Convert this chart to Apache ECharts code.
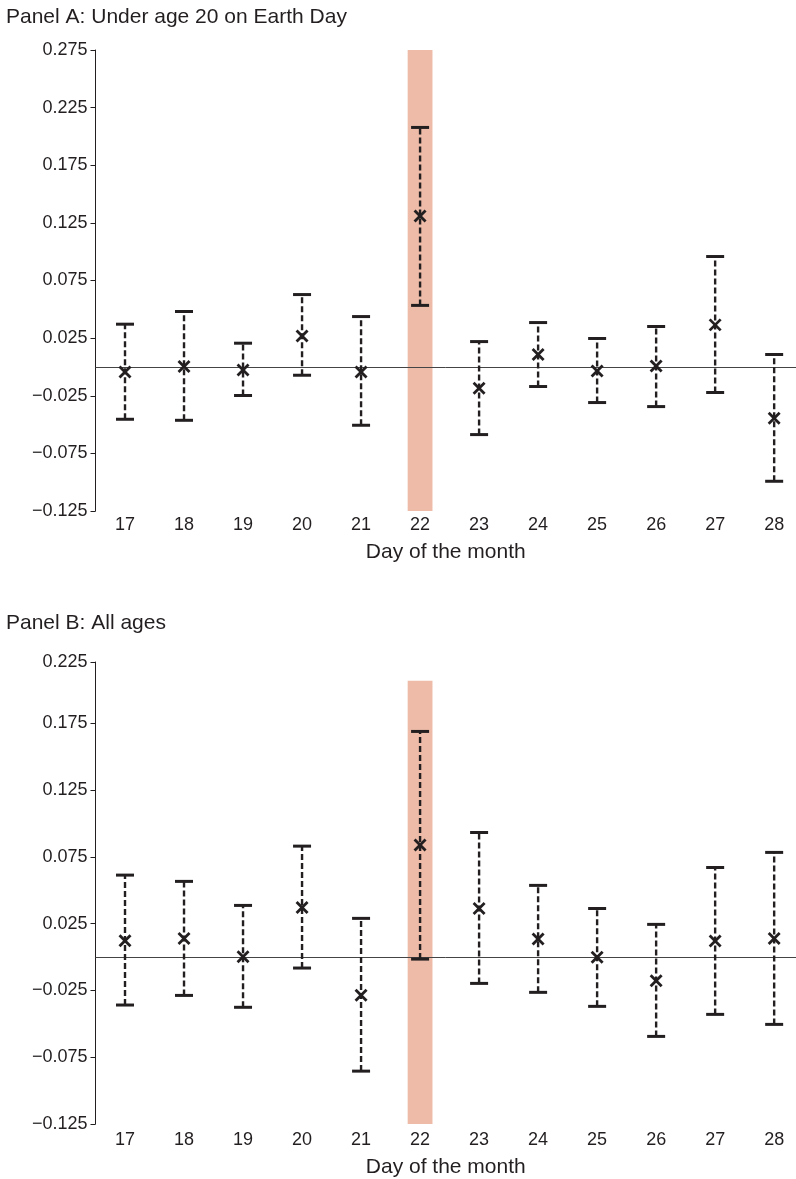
<!DOCTYPE html>
<html>
<head>
<meta charset="utf-8">
<script src="https://cdn.jsdelivr.net/npm/echarts@6/dist/echarts.min.js"></script>
<style>
html,body{margin:0;padding:0;background:#fff;}
#c{width:796px;height:1179px;}
</style>
</head>
<body>
<div id="c"></div>
<script>
// ---------- data ----------
var days = [17, 18, 19, 20, 21, 22, 23, 24, 25, 26, 27, 28];

// Panel A: Under age 20 on Earth Day
var pointA = [-0.0043, 0.0003, -0.0026, 0.0269, -0.0043, 0.1310, -0.0185, 0.0108, -0.0035, 0.0009, 0.0365, -0.0445];
var lowA   = [-0.0454, -0.0463, -0.0248, -0.0072, -0.0506, 0.0534, -0.0587, -0.0170, -0.0309, -0.0344, -0.0222, -0.0992];
var highA  = [0.0371, 0.0481, 0.0206, 0.0628, 0.0437, 0.2078, 0.0220, 0.0385, 0.0247, 0.0351, 0.0958, 0.0108];

// Panel B: All ages
var pointB = [0.0122, 0.0140, 0.0002, 0.0372, -0.0285, 0.0840, 0.0364, 0.0135, -0.0002, -0.0178, 0.0120, 0.0140];
var lowB   = [-0.0359, -0.0287, -0.0376, -0.0082, -0.0854, -0.0015, -0.0197, -0.0264, -0.0369, -0.0594, -0.0429, -0.0504];
var highB  = [0.0614, 0.0567, 0.0387, 0.0831, 0.0290, 0.1690, 0.0933, 0.0537, 0.0364, 0.0245, 0.0671, 0.0784];

// axis ticks / labels
var ticksA = [-0.125, -0.075, -0.025, 0.025, 0.075, 0.125, 0.175, 0.225, 0.275];
var ticksB = [-0.125, -0.075, -0.025, 0.025, 0.075, 0.125, 0.175, 0.221];
var tickLabelsA = ['\u22120.125', '\u22120.075', '\u22120.025', '0.025', '0.075', '0.125', '0.175', '0.225', '0.275'];
var tickLabelsB = ['\u22120.125', '\u22120.075', '\u22120.025', '0.025', '0.075', '0.125', '0.175', '0.225'];

var highlightDay = 22;
var shadeTopB = 0.207;

var titleA = 'Panel A: Under age 20 on Earth Day';
var titleB = 'Panel B: All ages';
var xName = 'Day of the month';

// ---------- chart ----------
var INK = '#231f20';
var FONT = 'Liberation Sans';
var chart = echarts.init(document.getElementById('c'), null, {renderer: 'canvas'});

function rows(points, lows, highs) {
  return days.map(function (d, i) { return [d, points[i], lows[i], highs[i]]; });
}

function renderErr(params, api) {
  var x = api.value(0);
  var p = api.coord([x, api.value(1)]);
  var lo = api.coord([x, api.value(2)]);
  var hi = api.coord([x, api.value(3)]);
  var cw = 9, m = 5.5;
  var line = {stroke: INK, lineWidth: 2.4, lineDash: [6, 3]};
  var cap = {stroke: INK, lineWidth: 3};
  var mk = {stroke: INK, lineWidth: 2.8};
  return {
    type: 'group',
    children: [
      {type: 'line', shape: {x1: lo[0], y1: lo[1], x2: hi[0], y2: hi[1]}, style: line},
      {type: 'line', shape: {x1: hi[0] - cw, y1: hi[1], x2: hi[0] + cw, y2: hi[1]}, style: cap},
      {type: 'line', shape: {x1: lo[0] - cw, y1: lo[1], x2: lo[0] + cw, y2: lo[1]}, style: cap},
      {type: 'line', shape: {x1: p[0] - m, y1: p[1] - m, x2: p[0] + m, y2: p[1] + m}, style: mk},
      {type: 'line', shape: {x1: p[0] - m, y1: p[1] + m, x2: p[0] + m, y2: p[1] - m}, style: mk}
    ]
  };
}

function labelFor(ticks, labels) {
  return function (v) {
    var best = 0, bd = Infinity;
    for (var i = 0; i < ticks.length; i++) {
      var d = Math.abs(ticks[i] - v);
      if (d < bd) { bd = d; best = i; }
    }
    return labels[best];
  };
}

function xAxisCfg(gi, labelMargin, nameGap) {
  return {
    type: 'value', gridIndex: gi, min: 16.5, max: 28.37,
    axisLine: {show: false}, axisTick: {show: false}, splitLine: {show: false},
    axisLabel: {customValues: days, color: INK, fontFamily: FONT, fontSize: 18, margin: labelMargin},
    name: xName, nameLocation: 'middle', nameGap: nameGap,
    nameTextStyle: {color: INK, fontFamily: FONT, fontSize: 21}
  };
}

function yAxisCfg(gi, min, max, ticks, labels) {
  return {
    type: 'value', gridIndex: gi, min: min, max: max,
    splitLine: {show: false},
    axisLine: {show: true, lineStyle: {color: INK, width: 1}},
    axisTick: {show: true, customValues: ticks, length: 5, lineStyle: {color: INK, width: 1}},
    axisLabel: {customValues: ticks, formatter: labelFor(ticks, labels), color: INK, fontFamily: FONT, fontSize: 18, margin: 8}
  };
}

var option = {
  backgroundColor: '#fff',
  animation: false,
  title: [
    {text: titleA, left: 1, top: 2, textStyle: {color: INK, fontFamily: FONT, fontSize: 21, fontWeight: 'normal'}},
    {text: titleB, left: 1, top: 608, textStyle: {color: INK, fontFamily: FONT, fontSize: 21, fontWeight: 'normal'}}
  ],
  grid: [
    {left: 95.5, right: 0, top: 50, height: 461},
    {left: 95.5, right: 0, top: 662, height: 462}
  ],
  xAxis: [xAxisCfg(0, 5, 31), xAxisCfg(1, 7, 33)],
  yAxis: [
    yAxisCfg(0, -0.125, 0.275, ticksA, tickLabelsA),
    yAxisCfg(1, -0.125, 0.221, ticksB, tickLabelsB)
  ],
  series: [
    {
      type: 'custom', xAxisIndex: 0, yAxisIndex: 0, z: 5,
      data: rows(pointA, lowA, highA), renderItem: renderErr, clip: false,
      markArea: {silent: true, z: 1, itemStyle: {color: '#edbba7'},
        data: [[{xAxis: highlightDay - 0.21, yAxis: -0.125}, {xAxis: highlightDay + 0.21, yAxis: 0.275}]]},
      markLine: {silent: true, symbol: 'none', z: 2, label: {show: false},
        lineStyle: {color: '#444', width: 1, type: 'solid'}, data: [{yAxis: 0}]}
    },
    {
      type: 'custom', xAxisIndex: 1, yAxisIndex: 1, z: 5,
      data: rows(pointB, lowB, highB), renderItem: renderErr, clip: false,
      markArea: {silent: true, z: 1, itemStyle: {color: '#edbba7'},
        data: [[{xAxis: highlightDay - 0.21, yAxis: -0.125}, {xAxis: highlightDay + 0.21, yAxis: shadeTopB}]]},
      markLine: {silent: true, symbol: 'none', z: 2, label: {show: false},
        lineStyle: {color: '#444', width: 1, type: 'solid'}, data: [{yAxis: 0}]}
    }
  ]
};
chart.setOption(option);
</script>
</body>
</html>
